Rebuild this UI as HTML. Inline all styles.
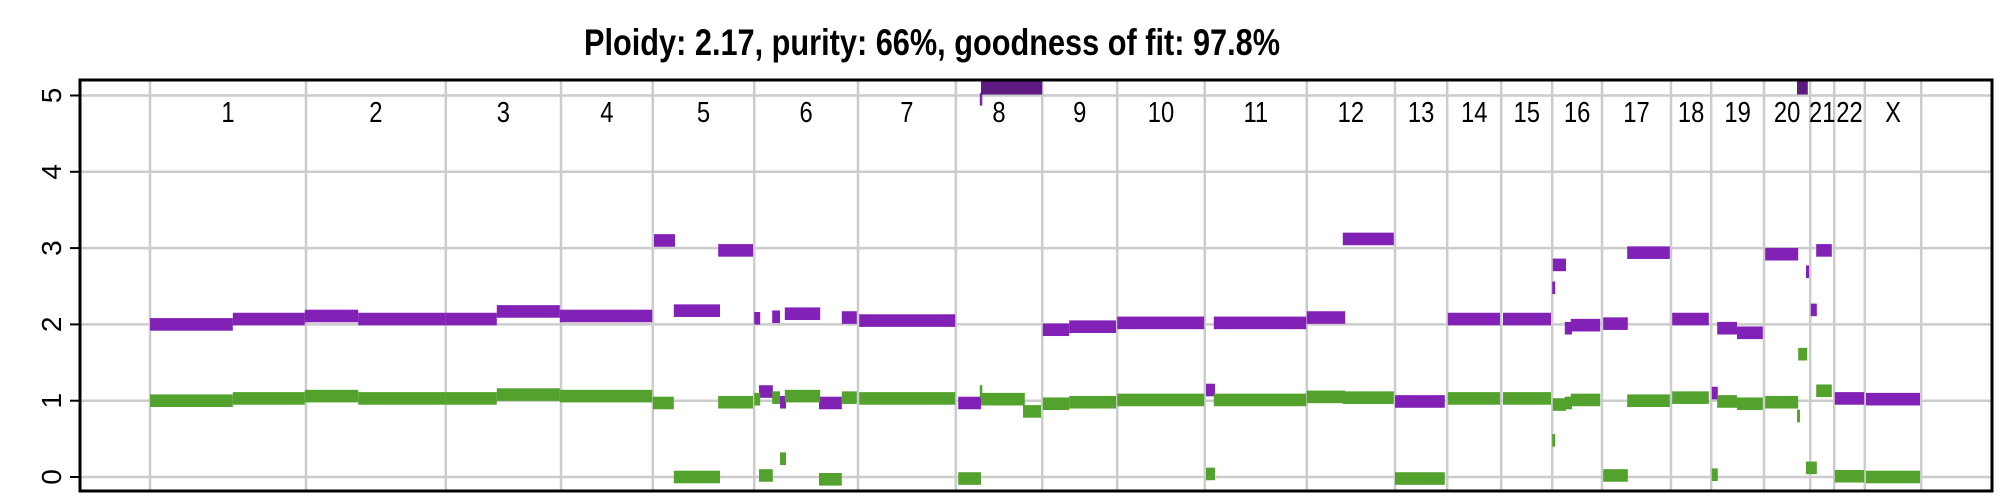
<!DOCTYPE html>
<html><head><meta charset="utf-8"><style>
html,body{margin:0;padding:0;background:#fff;}
svg{display:block;font-family:"Liberation Sans",Arial,sans-serif;}
</style></head><body>
<svg id="chart" width="2000" height="500" viewBox="0 0 2000 500" xmlns="http://www.w3.org/2000/svg">
<text x="584" y="55" font-size="37" font-weight="bold" textLength="696" lengthAdjust="spacingAndGlyphs">Ploidy: 2.17, purity: 66%, goodness of fit: 97.8%</text>
<g id="grid"></g>
<g id="marks"></g>
<g id="labels"></g>
<g id="yaxis"></g>
<rect x="80" y="80" width="1912" height="411" fill="none" stroke="#000" stroke-width="3"/>
</svg>
<script>
const chromNames = ["1","2","3","4","5","6","7","8","9","10","11","12","13","14","15","16","17","18","19","20","21","22","X"];
const chromLengths = [260,233,192,153,169,173,163,144,125,146,170,147,87,90,85,83,115,67,88,77,40,51,94];
const yTicks = [0,1,2,3,4,5];
// major allele (purple): start, end, copy number
const majorStart = [0,138,258,347,493,578,683,840,873,947,1007,1015,1037,1050,1058,1115,1153,1182,1347,1383,1385,1488,1532,1612,1760,1773,1928,1988,2075,2163,2255,2337,2338,2358,2368,2422,2462,2537,2603,2612,2645,2692,2745,2760,2768,2777,2808,2860];
const majorEnd   = [138,258,347,493,578,683,837,875,950,1005,1017,1038,1050,1060,1117,1153,1178,1342,1385,1386,1487,1532,1610,1757,1775,1927,1992,2073,2158,2250,2335,2342,2360,2370,2417,2463,2533,2598,2613,2645,2688,2747,2763,2765,2778,2803,2857,2950];
const majorCN    = [2.00,2.07,2.11,2.07,2.07,2.17,2.11,3.10,2.18,2.97,2.08,1.12,2.10,0.98,2.14,0.97,2.09,2.05,0.97,4.95,5.6,1.93,1.97,2.02,1.14,2.02,2.09,3.12,0.99,2.07,2.07,2.48,2.78,1.95,1.99,2.01,2.94,2.07,1.10,1.95,1.89,2.92,5.6,2.69,2.19,2.97,1.03,1.02];
// minor allele (green)
const minorStart = [0,138,258,347,493,578,683,838,873,947,1007,1015,1037,1050,1058,1115,1153,1182,1347,1383,1385,1455,1488,1532,1612,1760,1773,1928,1988,2075,2163,2255,2337,2338,2358,2368,2422,2462,2537,2603,2612,2645,2692,2745,2747,2760,2777,2808,2860];
const minorEnd   = [138,258,347,493,578,683,837,873,950,1005,1017,1038,1050,1060,1117,1153,1178,1342,1385,1386,1458,1485,1532,1610,1757,1775,1927,1992,2073,2158,2250,2335,2342,2360,2370,2417,2463,2533,2598,2613,2645,2688,2747,2750,2762,2778,2803,2857,2950];
const minorCN    = [1.00,1.03,1.06,1.03,1.03,1.08,1.06,0.97,0.00,0.98,1.02,0.02,1.04,0.24,1.06,-0.03,1.04,1.03,-0.02,1.12,1.02,0.86,0.96,0.98,1.01,0.04,1.01,1.05,1.04,-0.02,1.03,1.03,0.48,0.95,0.97,1.01,0.02,1.00,1.04,0.03,0.99,0.96,0.98,0.80,1.61,0.12,1.13,0.01,0.00];

const NS = "http://www.w3.org/2000/svg";
const X0 = 150, KX = 0.6;
function xs(u){ return X0 + u*KX; }
function ys(v){ return 477 - v*76.3; }
function mk(tag, attrs, parent){ const e=document.createElementNS(NS,tag); for(const k in attrs) e.setAttribute(k,attrs[k]); parent.appendChild(e); return e; }

const grid=document.getElementById('grid'), marks=document.getElementById('marks'), labels=document.getElementById('labels'), yaxis=document.getElementById('yaxis');
yTicks.forEach(t=>{
  const l=mk('line',{x1:80,x2:1992,y1:ys(t),y2:ys(t),stroke:'#cccccc','stroke-width':2.5},grid);
  
  
  const tk=mk('line',{x1:70,x2:80,y1:ys(t),y2:ys(t),stroke:'#000','stroke-width':2},yaxis);
  
  
  const tx=mk('text',{x:0,y:0,'font-size':28,'text-anchor':'middle',transform:`translate(61,${ys(t)}) rotate(-90)`},yaxis);
  tx.textContent=t;
  
  
});
let cum=0;
const bounds=[0];
chromLengths.forEach(L=>{cum+=L;bounds.push(cum);});
bounds.forEach(b=>{
  const l=mk('line',{x1:xs(b),x2:xs(b),y1:80,y2:491,stroke:'#cccccc','stroke-width':2.5},grid);
  
  
});
chromNames.forEach((n,i)=>{
  const cx=(xs(bounds[i])+xs(bounds[i+1]))/2;
  const t=mk('text',{x:0,y:0,'font-size':29,'text-anchor':'middle',transform:`translate(${cx},122) scale(0.82,1)`},labels);
  t.textContent=n;
  
  
});
function drawSeries(st,en,cn,color,name){
  for(let i=0;i<st.length;i++){
    const x1=xs(st[i]), x2=xs(en[i]);
    let w=Math.max(x2-x1,2.5);
    let r;
    if(cn[i]>5.2){
      r=mk('rect',{x:x1,y:81,width:w,height:ys(5)-1-81,fill:'#5e1a80'},marks);
    } else {
      const yc=ys(cn[i]);
      r=mk('rect',{x:x1,y:yc-6.3,width:w,height:12.6,fill:color},marks);
    }
    
    
  }
}
drawSeries(majorStart,majorEnd,majorCN,'#8121b5','major-allele-segment');
drawSeries(minorStart,minorEnd,minorCN,'#52a22d','minor-allele-segment');
</script>
</body></html>
